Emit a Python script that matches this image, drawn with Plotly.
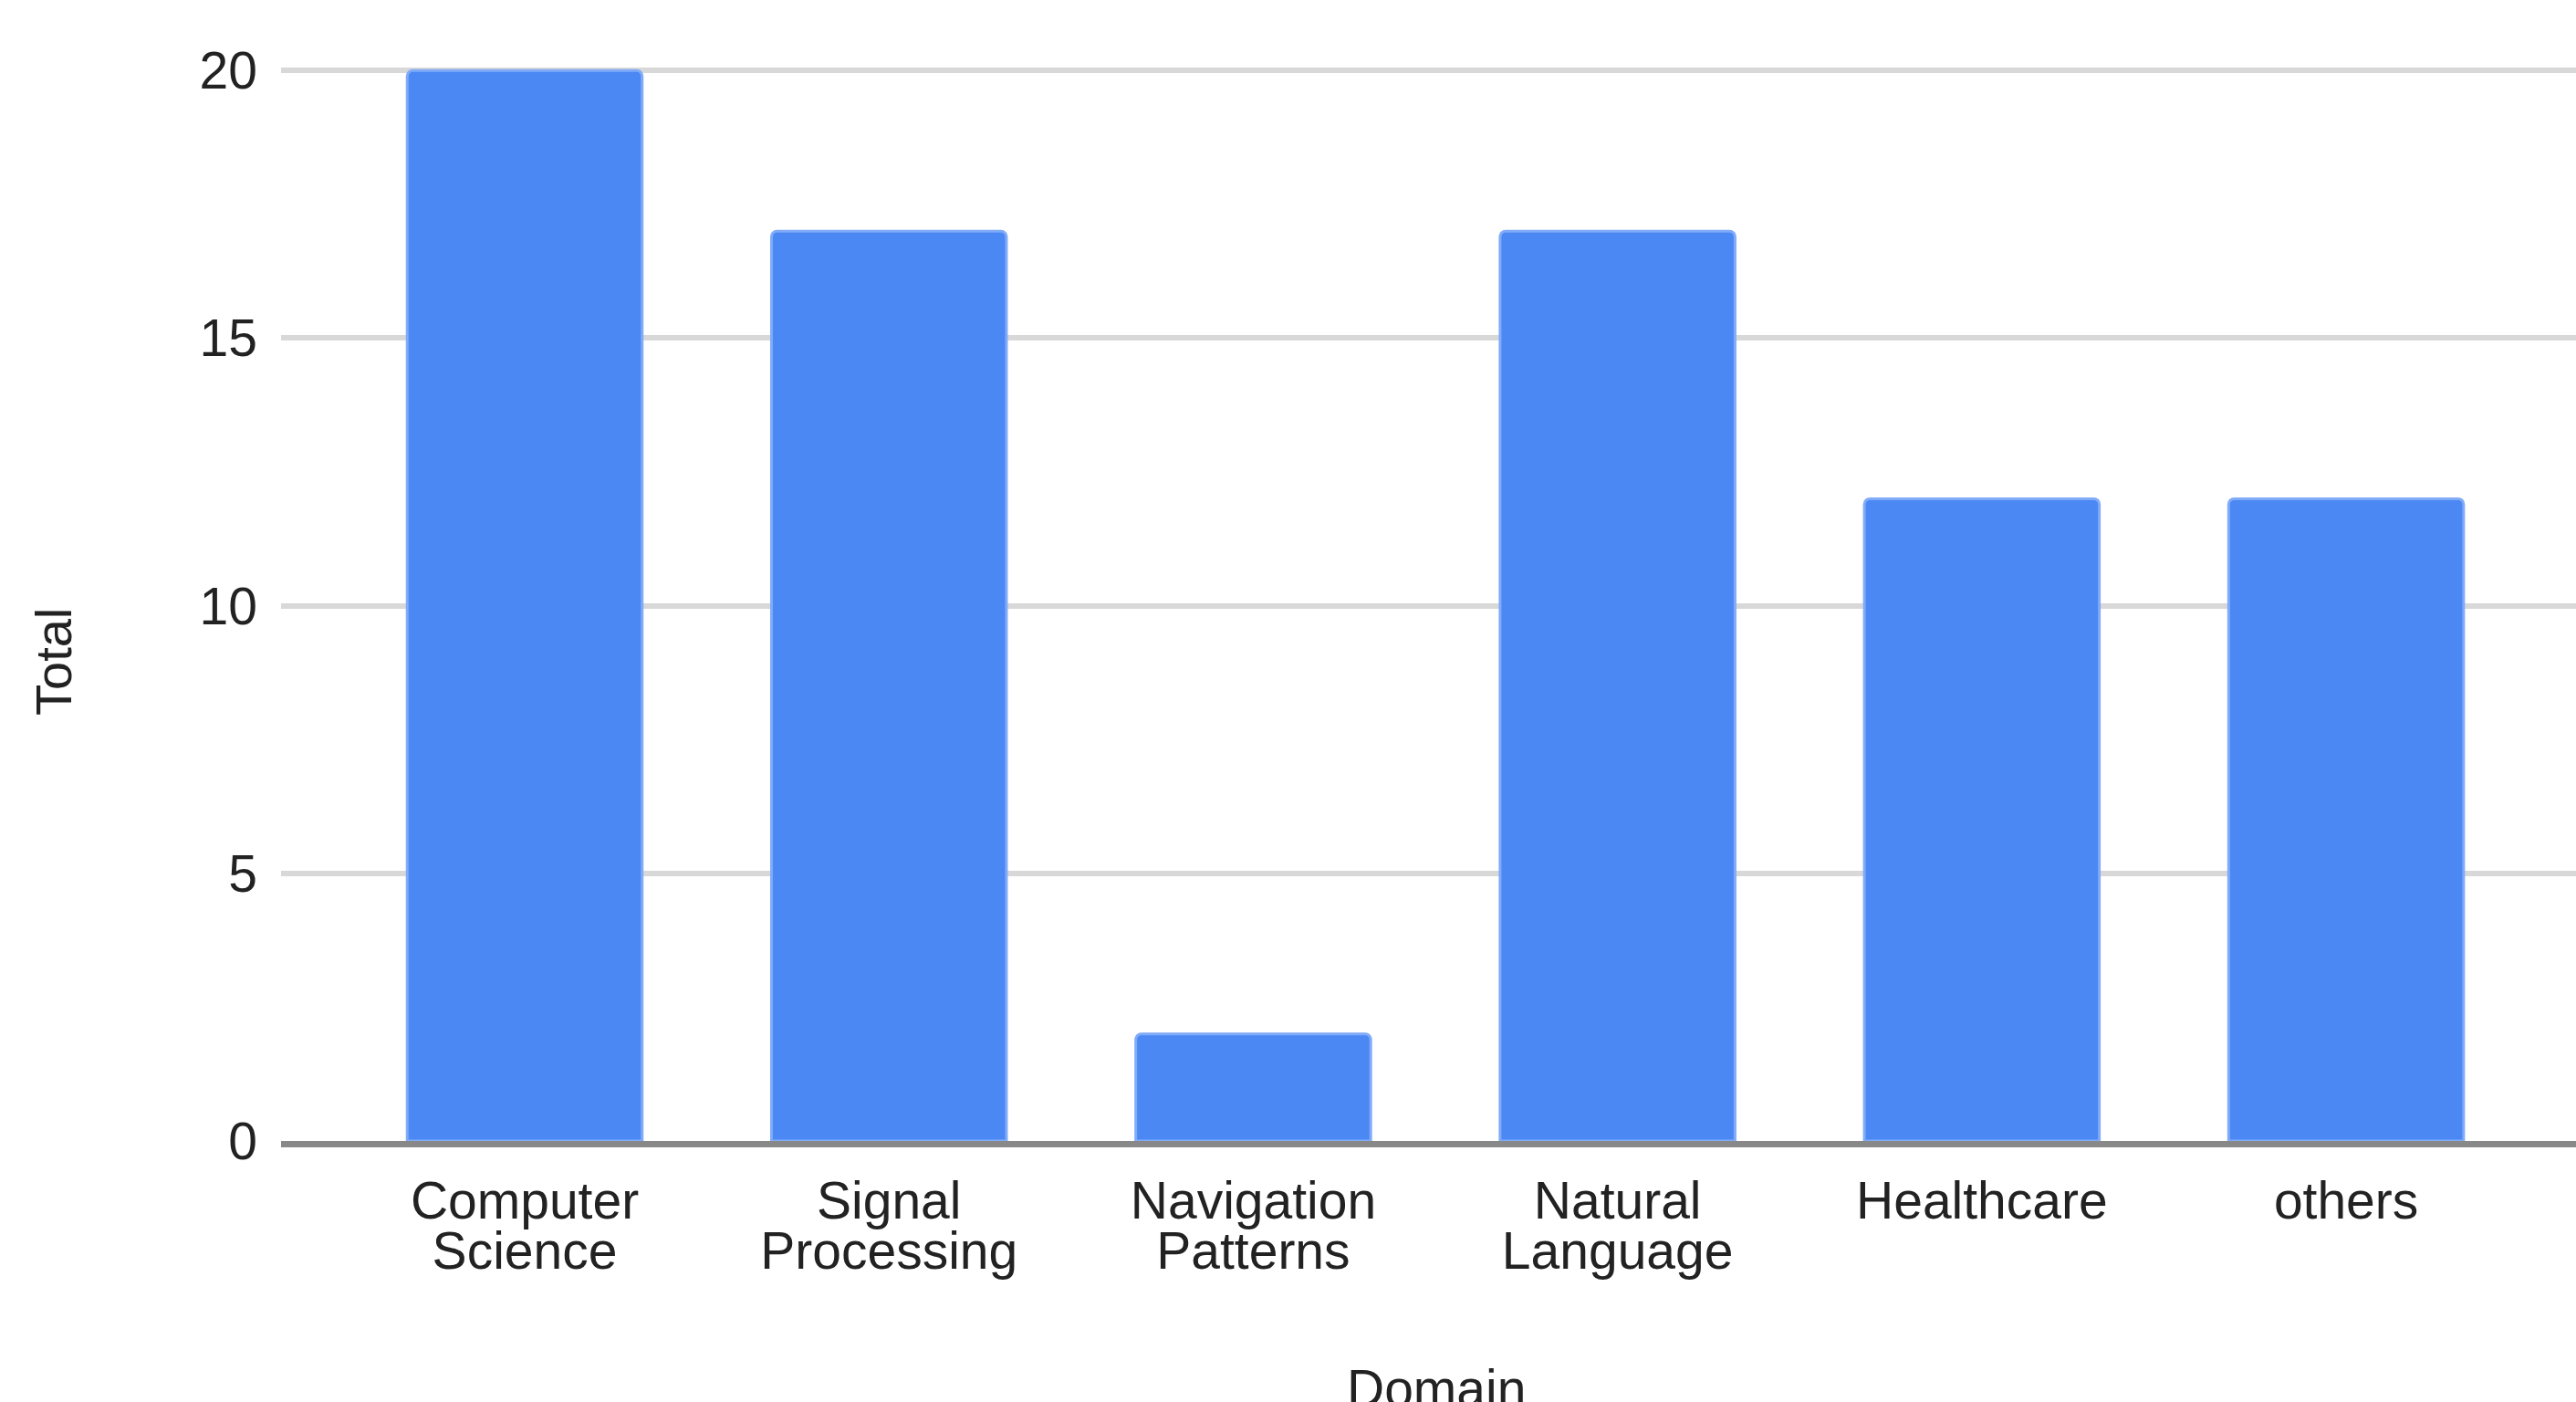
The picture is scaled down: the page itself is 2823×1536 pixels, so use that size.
import plotly.graph_objects as go

label_line1 = ["Computer", "Signal", "Navigation", "Natural", "Healthcare", "others"]
label_line2 = ["Science", "Processing", "Patterns", "Language", "", ""]
totals = [20, 17, 2, 17, 12, 12]
y_ticks = [0, 5, 10, 15, 20]

W, H = 2823, 1536
ML, MR, MT, MB = 308, 0, 48, 286
FONT = "Arial, Liberation Sans, sans-serif"
X_RANGE = [-0.6688, 5.631]
idx = list(range(len(label_line1)))

fig = go.Figure()
fig.add_trace(go.Bar(
    x=idx,
    y=totals,
    width=0.645,
    marker=dict(color="#4c88f4", line=dict(color="#80abf8", width=3), cornerradius=6),
    hoverinfo="skip",
))
# invisible helper trace so the second-line label axis is drawn
fig.add_trace(go.Scatter(
    x=idx, y=totals, xaxis="x2", yaxis="y",
    mode="markers", marker=dict(opacity=0), hoverinfo="skip", showlegend=False,
))

tickfont = dict(family=FONT, size=57, color="#222222")

fig.update_layout(
    width=W, height=H, autosize=False,
    margin=dict(l=ML, r=MR, t=MT, b=MB, pad=0),
    paper_bgcolor="white", plot_bgcolor="white",
    showlegend=False,
    font=dict(family=FONT, size=57, color="#222222"),
    xaxis=dict(
        tickmode="array", tickvals=idx, ticktext=label_line1,
        range=X_RANGE,
        showgrid=False, zeroline=False,
        showline=True, linecolor="#888888", linewidth=7,
        ticks="", ticklabelstandoff=10,
        tickfont=tickfont,
    ),
    xaxis2=dict(
        tickmode="array", tickvals=idx, ticktext=label_line2,
        range=X_RANGE, overlaying="x", anchor="y", side="bottom",
        showgrid=False, zeroline=False, showline=False,
        ticks="", ticklabelstandoff=82,
        tickfont=tickfont,
    ),
    yaxis=dict(
        range=[0, 20.5],
        tickmode="array", tickvals=y_ticks,
        showgrid=True, gridcolor="#d8d8d8", gridwidth=6,
        zeroline=False, showline=False,
        ticks="", ticklabelstandoff=25,
        tickfont=tickfont,
    ),
    annotations=[
        dict(text="Total", xref="paper", yref="paper",
             x=(59 - ML) / (W - ML - MR), y=(1250 - 725) / (1250 - MT),
             xanchor="center", yanchor="middle", textangle=-90, showarrow=False,
             font=dict(family=FONT, size=56, color="#222222")),
        dict(text="Domain", xref="paper", yref="paper",
             x=(1574 - ML) / (W - ML - MR), y=(1250 - 1521) / (1250 - MT),
             xanchor="center", yanchor="middle", showarrow=False,
             font=dict(family=FONT, size=57, color="#222222")),
    ],
)

fig.write_html("out.html")
